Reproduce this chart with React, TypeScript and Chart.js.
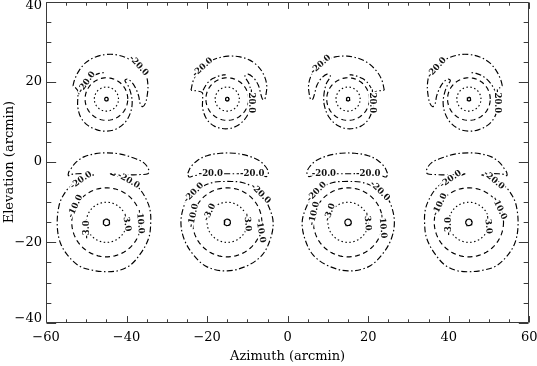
import React, { useEffect, useRef } from "react";
import { Chart, registerables } from "chart.js";

Chart.register(...registerables);

// ---- axes ----
const X_RANGE = [-60, 60];
const Y_RANGE = [-40, 40];
const X_MAJOR = 20;
const Y_MAJOR = 20;
const MINOR = 5;

// ---- beam layout (arcmin) ----
const beamX = [-45, -15, 15, 45];
const topRowY = 15.7;
const bottomRowY = -15;
// radii of the near-circular contours: peak, -3 dB, -10 dB
const topRowRadii = [0.45, 3.0, 5.3];
const bottomRowRadii = [0.8, 5.0, 8.6];

// ---- -20 dB contours, offsets from the beam centre (outer beam at -45, inner beam at -15) ----
const topOuterMain: [number, number][] = [
  [-8.3, 3.3], [-7.9, 4.8], [-6.9, 6.9], [-5.2, 9.0], [-2.7, 10.5], [0, 11.1], [2.6, 11.0], [5.5, 10.0],
  [8.0, 8.3], [9.7, 6.3], [10.3, 3.6], [10.1, 0.7], [9.6, -1.2], [9.0, -1.9], [8.4, -1.2], [8.0, 0.8],
  [7.2, 2.8], [6.2, 4.3], [5.2, 5.0], [4.6, 4.6], [5.4, 3.3], [6.1, 1.3], [6.4, -0.9], [6.0, -3.3],
  [4.8, -5.6], [2.6, -7.4], [0, -8.0], [-2.5, -7.6], [-4.7, -6.5], [-6.4, -4.5], [-7.1, -2.0],
  [-7.1, 0.4], [-7.0, 1.8], [-7.6, 2.7], [-8.3, 3.3],
];
const topOuterInner: [number, number][] = [
  [-6.9, 1.2], [-6.0, 3.0], [-4.8, 4.6], [-3.3, 5.8], [-1.8, 6.4], [-0.5, 6.6],
];
const topInnerMain: [number, number][] = [
  [-9.0, 2.2], [-8.4, 4.7], [-7.2, 6.8], [-5.1, 8.9], [-2.7, 10.1], [0.2, 10.7], [3.2, 10.5], [5.6, 9.7],
  [7.7, 8.1], [9.1, 6.0], [9.8, 3.5], [9.6, 1.0], [9.2, -0.2], [8.7, 0.1], [8.3, 1.4], [7.7, 3.5],
  [6.6, 5.2], [5.2, 6.2], [4.4, 5.7], [5.4, 3.8], [6.0, 1.0], [5.9, -1.5], [4.8, -4.4], [2.7, -6.5],
  [0, -7.4], [-3.1, -6.8], [-5.1, -5.0], [-6.1, -2.3], [-6.1, 0.2], [-6.2, 1.6], [-7.4, 2.0], [-9.0, 2.2],
];
const topInnerInner: [number, number][] = [
  [-6.0, 2.2], [-5.0, 3.9], [-3.6, 5.1], [-1.9, 5.8], [-0.4, 6.1],
];
const bottomOuterMain: [number, number][] = [
  [-3.1, 11.8], [-5.2, 12.1], [-7.3, 12.1], [-8.9, 11.9], [-9.4, 11.6], [-9.4, 12.4], [-8.9, 13.2],
  [-7.7, 14.8], [-5.6, 16.3], [-2.7, 17.1], [0.2, 17.3], [3.5, 17.0], [6.8, 16.0], [9.3, 14.8],
  [10.5, 13.1], [10.3, 12.1], [8.4, 11.9], [6.0, 11.8], [3.1, 11.9], [1.0, 12.1], [2.0, 11.7],
  [3.5, 11.3], [6.0, 10.2], [8.0, 8.6], [9.7, 6.1], [10.8, 3.2], [11.0, -0.2], [10.5, -3.9],
  [8.6, -7.6], [6.0, -10.6], [3.1, -12.0], [0, -12.3], [-3.1, -12.0], [-6.5, -11.0], [-9.3, -8.6],
  [-11.4, -5.2], [-12.2, -1.0], [-11.8, 4.0], [-10.6, 6.9], [-8.5, 9.4], [-5.6, 11.1], [-3.1, 11.8],
];
const bottomInnerCrescent: [number, number][] = [
  [-9.8, 12.2], [-9.1, 13.7], [-7.4, 15.4], [-5.0, 16.6], [-1.7, 17.2], [1.7, 17.2], [5.0, 16.6],
  [7.9, 15.4], [9.5, 13.9], [10.2, 12.5], [9.8, 11.4], [8.3, 11.9], [5.8, 12.1], [2.5, 12.1],
  [0, 12.1], [-2.5, 12.1], [-5.8, 11.9], [-8.3, 11.6], [-9.5, 11.3], [-9.8, 12.2],
];
const bottomInnerRing: [number, number][] = [
  [0, 10.2], [3.3, 10.0], [6.2, 8.9], [8.7, 6.7], [10.4, 3.7], [11.4, 0], [10.7, -4.2], [8.7, -8.1],
  [5.0, -10.8], [0, -12.1], [-5.0, -11.1], [-8.4, -8.1], [-10.7, -4.2], [-11.5, 0], [-10.7, 4.2],
  [-9.1, 6.9], [-6.6, 8.7], [-3.3, 10.0], [0, 10.2],
];

// ---- contour labels ----
const labelText = [
  "-20.0", "-20.0", "-20.0", "-20.0", "-20.0", "-20.0", "-20.0", "-20.0",
  "-20.0", "-20.0", "-10.0", "-3.0", "-3.0", "-10.0",
  "-20.0", "-20.0", "-20.0", "-20.0", "-10.0", "-3.0", "-3.0", "-10.0",
  "-20.0", "-20.0", "-20.0", "-20.0", "-10.0", "-3.0", "-3.0", "-10.0",
  "-20.0", "-20.0", "-10.0", "-10.0", "-3.0", "-3.0",
];
const labelX = [
  -37.0, -49.9, -21.1, -9.0, 8.2, 21.1, 37.0, 52.0,
  -51.3, -39.5, -52.7, -49.8, -40.0, -36.6,
  -19.1, -8.8, -23.3, -6.7, -23.4, -19.4, -10.0, -6.7,
  9.0, 20.0, 7.2, 22.9, 6.6, 10.5, 19.8, 23.6,
  40.5, 51.2, 37.8, 52.6, 40.1, 49.8,
];
const labelY = [
  24.0, 19.9, 23.6, 15.2, 24.3, 15.2, 23.5, 15.2,
  -4.5, -4.6, -11.0, -16.8, -15.0, -14.8,
  -2.9, -2.9, -7.6, -7.9, -13.3, -12.5, -15.0, -17.1,
  -2.9, -2.9, -7.4, -7.2, -12.8, -12.5, -14.8, -16.0,
  -4.2, -4.5, -10.6, -11.5, -16.0, -15.6,
];
const labelAngle = [
  48, -55, -42, 90, -42, 90, -48, 90,
  -35, 30, -65, -90, 80, 85,
  0, 0, -45, 45, -78, -65, 85, 80,
  0, 0, -45, 45, -78, -70, 85, 85,
  -35, 40, -65, 65, -90, 85,
];

const DASH_SOLID: number[] = [];
const DASH_DOT: number[] = [1.5, 2.5];
const DASH_LONG: number[] = [5, 3.5];
const DASH_DASHDOT: number[] = [6, 2.5, 1.5, 2.5];

const FONT = "'DejaVu Serif', serif";

function circle(cx: number, cy: number, r: number, n = 90) {
  const pts: { x: number; y: number }[] = [];
  for (let i = 0; i <= n; i++) {
    const a = (i / n) * Math.PI * 2;
    pts.push({ x: cx + r * Math.cos(a), y: cy + r * Math.sin(a) });
  }
  return pts;
}

function place(shape: [number, number][], cx: number, cy: number, mirror: boolean) {
  return shape.map(([dx, dy]) => ({ x: cx + (mirror ? -dx : dx), y: cy + dy }));
}

function line(data: { x: number; y: number }[], dash: number[], tension = 0.35) {
  return {
    type: "scatter" as const,
    data,
    showLine: true,
    borderColor: "#000",
    borderWidth: 1.15,
    borderDash: dash,
    pointRadius: 0,
    pointHoverRadius: 0,
    fill: false,
    tension,
  };
}

function buildDatasets() {
  const ds: any[] = [];
  beamX.forEach((bx) => {
    const mirror = bx > 0;
    const outer = Math.abs(bx) > 30;
    // top row
    ds.push(line(circle(bx, topRowY, topRowRadii[0], 40), DASH_SOLID, 0));
    ds.push(line(circle(bx, topRowY, topRowRadii[1]), DASH_DOT, 0));
    ds.push(line(circle(bx, topRowY, topRowRadii[2]), DASH_LONG, 0));
    ds.push(line(place(outer ? topOuterMain : topInnerMain, bx, topRowY, mirror), DASH_DASHDOT));
    ds.push(line(place(outer ? topOuterInner : topInnerInner, bx, topRowY, mirror), DASH_DASHDOT));
    // bottom row
    ds.push(line(circle(bx, bottomRowY, bottomRowRadii[0], 40), DASH_SOLID, 0));
    ds.push(line(circle(bx, bottomRowY, bottomRowRadii[1]), DASH_DOT, 0));
    ds.push(line(circle(bx, bottomRowY, bottomRowRadii[2]), DASH_LONG, 0));
    if (outer) {
      ds.push(line(place(bottomOuterMain, bx, bottomRowY, mirror), DASH_DASHDOT));
    } else {
      ds.push(line(place(bottomInnerCrescent, bx, bottomRowY, mirror), DASH_DASHDOT));
      ds.push(line(place(bottomInnerRing, bx, bottomRowY, mirror), DASH_DASHDOT));
    }
  });
  return ds;
}

const fmt = (v: any) => {
  const n = Number(v);
  return n < 0 ? "\u2212" + Math.abs(n) : String(n);
};

const labelPlugin = {
  id: "contourLabels",
  afterDatasetsDraw(chart: any) {
    const { ctx, scales } = chart;
    ctx.save();
    ctx.font = `bold 8.5px ${FONT}`;
    ctx.textAlign = "center";
    ctx.textBaseline = "middle";
    labelText.forEach((t, i) => {
      const px = scales.x.getPixelForValue(labelX[i]);
      const py = scales.y.getPixelForValue(labelY[i]);
      ctx.save();
      ctx.translate(px, py);
      ctx.rotate((labelAngle[i] * Math.PI) / 180);
      ctx.lineWidth = 3;
      ctx.strokeStyle = "#fff";
      ctx.strokeText(t, 0, 0);
      ctx.fillStyle = "#111";
      ctx.fillText(t, 0, 0);
      ctx.restore();
    });
    ctx.restore();
  },
};

const framePlugin = {
  id: "frameTicks",
  afterDraw(chart: any) {
    const { ctx, chartArea: a, scales } = chart;
    const xs = scales.x;
    const ys = scales.y;
    const L = Math.round(a.left) + 0.5;
    const R = Math.round(a.right) - 0.5;
    const T = Math.round(a.top) + 0.5;
    const B = Math.round(a.bottom) - 0.5;
    ctx.save();
    ctx.strokeStyle = "#3a3a3a";
    ctx.lineWidth = 1;
    ctx.beginPath();
    ctx.rect(L, T, R - L, B - T);
    const h = a.bottom - a.top;
    const w = a.right - a.left;
    for (let v = X_RANGE[0]; v <= X_RANGE[1]; v += MINOR) {
      const px = Math.round(xs.getPixelForValue(v)) + 0.5;
      const len = v % X_MAJOR === 0 ? h * 0.02 : h * 0.01;
      ctx.moveTo(px, B);
      ctx.lineTo(px, B - len);
      ctx.moveTo(px, T);
      ctx.lineTo(px, T + len);
    }
    for (let v = Y_RANGE[0]; v <= Y_RANGE[1]; v += MINOR) {
      const py = Math.round(ys.getPixelForValue(v)) + 0.5;
      const len = v % Y_MAJOR === 0 ? w * 0.02 : w * 0.01;
      ctx.moveTo(L, py);
      ctx.lineTo(L + len, py);
      ctx.moveTo(R, py);
      ctx.lineTo(R - len, py);
    }
    ctx.stroke();
    // y tick labels, kept inside the canvas at the ends of the axis
    ctx.fillStyle = "#000";
    ctx.font = `13px ${FONT}`;
    ctx.textAlign = "right";
    ctx.textBaseline = "middle";
    ys.ticks.forEach((t: any) => {
      const py = ys.getPixelForValue(t.value);
      const y = Math.min(Math.max(py, a.top + 4.5), a.bottom - 4.5);
      ctx.fillText(fmt(t.value), a.left - 4, y);
    });
    ctx.restore();
  },
};

export default function App() {
  const ref = useRef<HTMLCanvasElement | null>(null);
  useEffect(() => {
    if (!ref.current) return;
    const chart = new Chart(ref.current, {
      type: "scatter",
      data: { datasets: buildDatasets() },
      options: {
        animation: false,
        responsive: false,
        devicePixelRatio: 1,
        events: [],
        layout: { padding: { top: 1.5, right: 7.7, left: 0, bottom: 0 } },
        plugins: { legend: { display: false }, tooltip: { enabled: false } },
        scales: {
          x: {
            type: "linear",
            min: X_RANGE[0],
            max: X_RANGE[1],
            grid: { display: false, drawTicks: false },
            border: { display: false },
            ticks: {
              stepSize: X_MAJOR,
              padding: 7,
              color: "#000",
              maxRotation: 0,
              autoSkip: false,
              font: { family: FONT, size: 13 },
              callback: fmt,
            },
            title: {
              display: true,
              text: "Azimuth (arcmin)",
              color: "#000",
              font: { family: FONT, size: 13 },
              padding: { top: 0, bottom: 2 },
            },
            afterFit: (s: any) => {
              s.height = 43.3;
              s.paddingLeft = 0;
              s.paddingRight = 0;
            },
          },
          y: {
            type: "linear",
            min: Y_RANGE[0],
            max: Y_RANGE[1],
            grid: { display: false, drawTicks: false },
            border: { display: false },
            ticks: {
              display: false,
              stepSize: Y_MAJOR,
              autoSkip: false,
            },
            title: {
              display: true,
              text: "Elevation (arcmin)",
              color: "#000",
              font: { family: FONT, size: 13 },
              padding: { top: 2, bottom: 0 },
            },
            afterFit: (s: any) => {
              s.width = 46;
              s.paddingTop = 0;
              s.paddingBottom = 0;
            },
          },
        },
      },
      plugins: [labelPlugin, framePlugin],
    } as any);
    return () => chart.destroy();
  }, []);
  return (
    <div style={{ position: "fixed", left: 0, top: 0, width: 537, height: 366, background: "#fff" }}>
      <canvas ref={ref} width={537} height={366} style={{ width: 537, height: 366, display: "block" }} />
    </div>
  );
}
